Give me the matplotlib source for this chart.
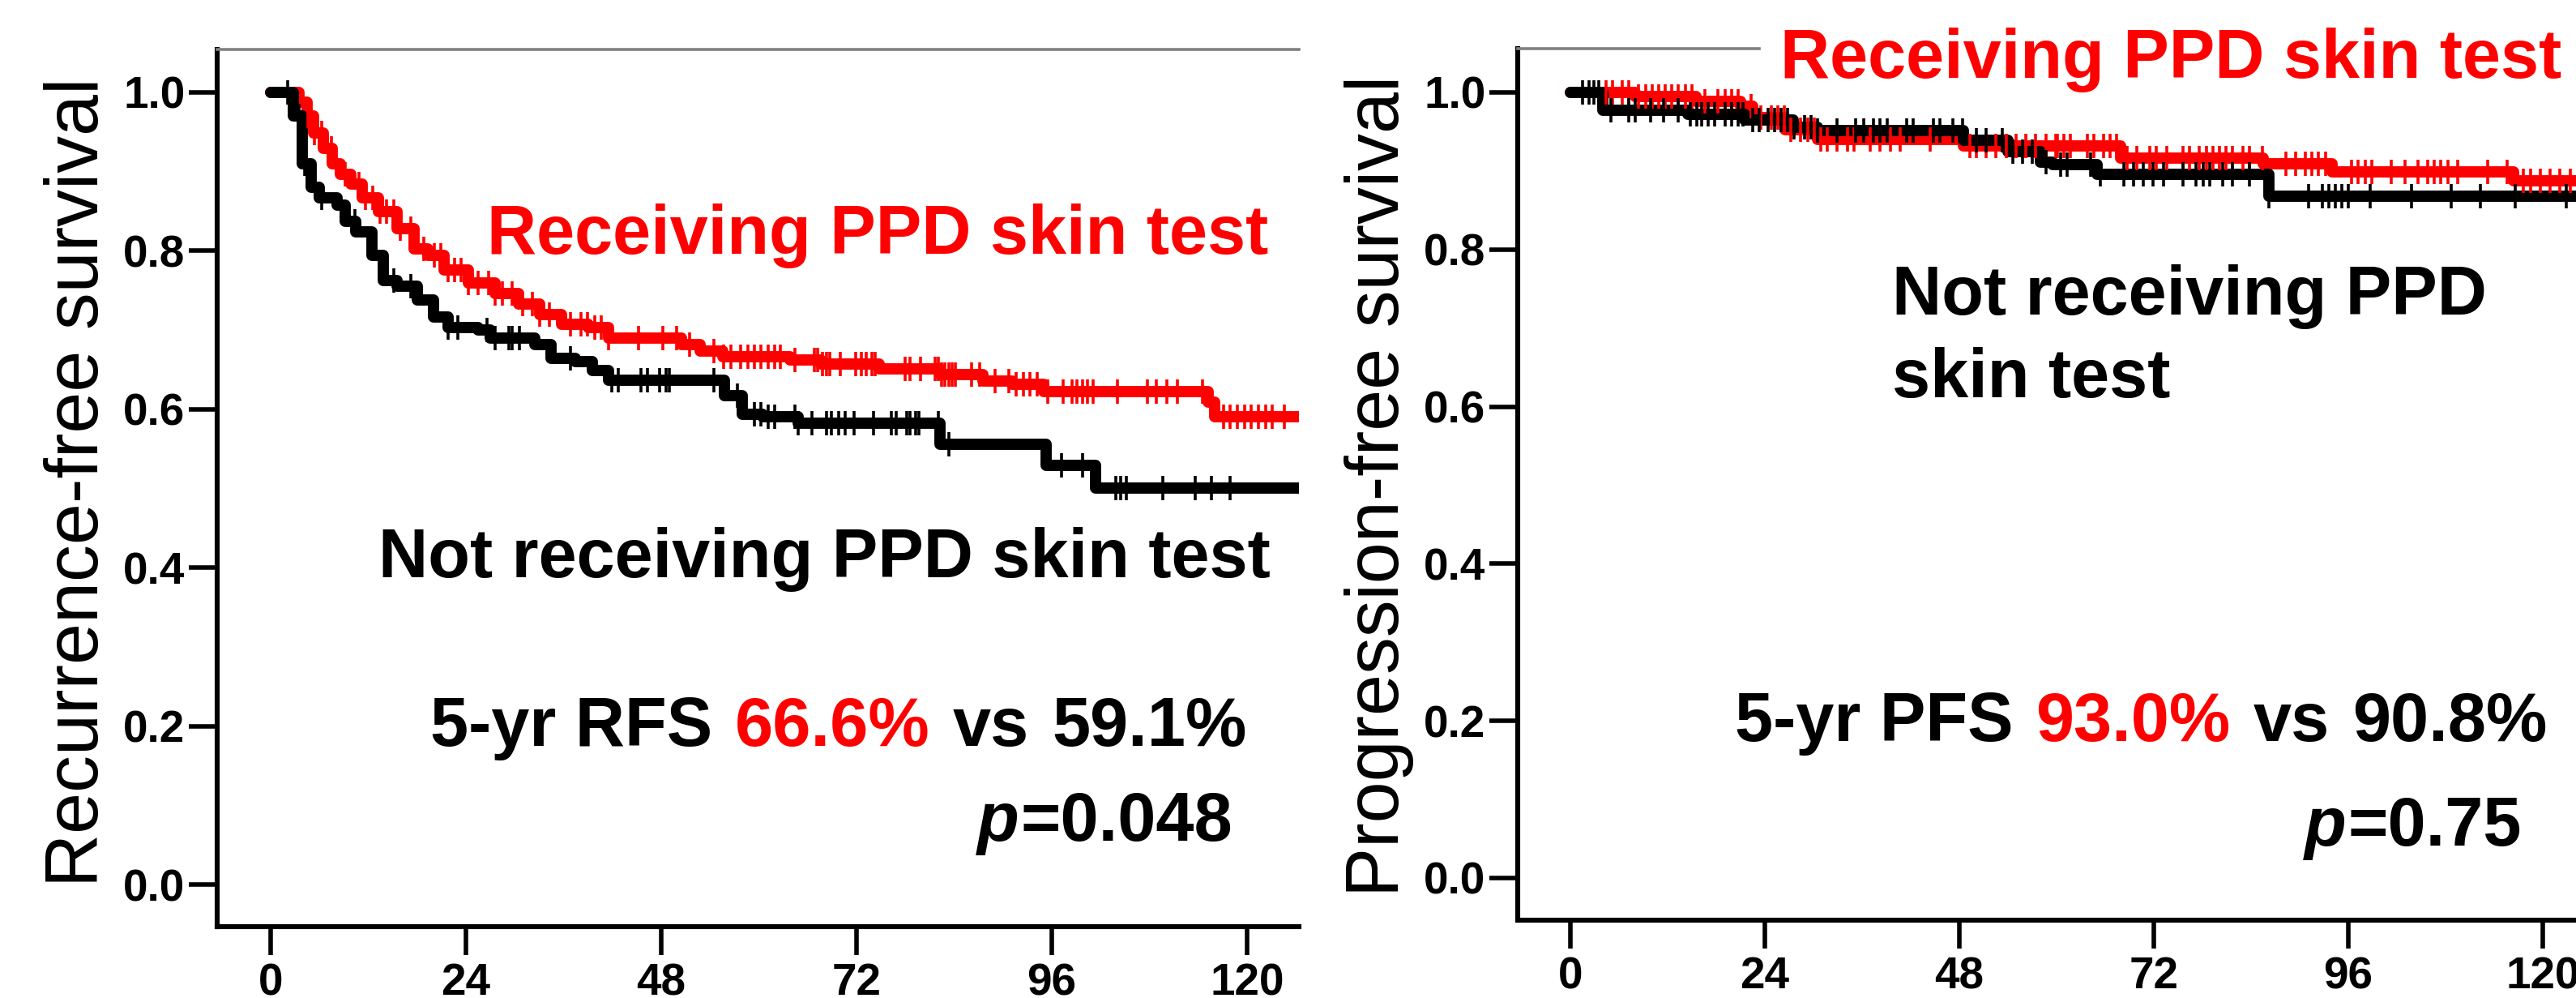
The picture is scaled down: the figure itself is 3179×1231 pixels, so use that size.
import numpy as np
import matplotlib
matplotlib.use("Agg")
import matplotlib.pyplot as plt

# ---------------- data ----------------
month_ticks = [0, 24, 48, 72, 96, 120]
month_labels = ["0", "24", "48", "72", "96", "120"]
surv_ticks = [0.0, 0.2, 0.4, 0.6, 0.8, 1.0]
surv_labels = ["0.0", "0.2", "0.4", "0.6", "0.8", "1.0"]

# Left panel: recurrence-free survival
rfs_ppd_t = [0, 3.5, 4.5, 5.3, 6.5, 7.6, 8.6, 9.9, 11.3, 13.2, 15.5, 17.6, 19.3, 21.3,
             24.3, 27.6, 30.5, 33.1, 35.8, 39.0, 41.5, 50.5, 52.8, 55.6, 63.8, 67.6,
             74.8, 82.3, 87.5, 91.1, 95.0, 115.2, 116.0, 126.4]
rfs_ppd_s = [1.000, 0.988, 0.970, 0.949, 0.929, 0.910, 0.897, 0.884, 0.867, 0.850, 0.828,
             0.802, 0.794, 0.776, 0.759, 0.746, 0.733, 0.720, 0.707, 0.703, 0.690, 0.682,
             0.673, 0.666, 0.662, 0.657, 0.651, 0.644, 0.636, 0.631, 0.622, 0.609, 0.591,
             0.591]
rfs_ppd_cens = [4.6, 5.4, 6.3, 7.5, 9.2, 10.9, 11.7, 12.6, 13.4, 14.2, 15.1, 15.9, 17.2,
                18.8, 20.1, 20.9, 21.8, 22.6, 23.4, 24.3, 25.5, 26.8, 27.6, 28.5, 29.7,
                31.0, 32.2, 33.1, 34.3, 36.9, 38.1, 38.9, 39.8, 40.6, 41.5, 45.2, 48.2,
                49.9, 51.5, 54.5, 55.7, 56.6, 57.8, 58.7, 59.5, 60.3, 61.2, 62.0, 62.6,
                64.4, 66.8, 67.2, 67.8, 68.3, 68.7, 70.0, 71.9, 72.6, 73.2, 73.9, 74.3,
                78.0, 78.6, 79.9, 81.7, 82.1, 82.5, 82.9, 83.4, 83.8, 84.2, 86.2, 87.1,
                89.0, 90.7, 91.6, 92.5, 93.3, 94.2, 95.5, 97.4, 98.5, 99.1, 99.8, 100.4,
                101.1, 104.1, 107.8, 108.9, 110.2, 111.5, 114.5, 117.1, 117.9, 118.8,
                119.7, 120.5, 121.4, 122.3, 123.1, 124.6]

rfs_no_t = [0, 2.8, 3.9, 5.0, 6.0, 8.2, 9.2, 10.5, 12.5, 13.8, 15.5, 18.0, 20.0, 21.8,
            25.5, 27.0, 32.5, 34.5, 37.5, 39.5, 41.5, 55.8, 58.0, 60.5, 64.8, 82.3,
            95.3, 101.4, 126.4]
rfs_no_s = [1.000, 0.970, 0.910, 0.880, 0.867, 0.858, 0.837, 0.824, 0.794, 0.763, 0.755,
            0.738, 0.716, 0.703, 0.700, 0.690, 0.682, 0.664, 0.660, 0.649, 0.637, 0.617,
            0.594, 0.591, 0.582, 0.556, 0.529, 0.500, 0.500]
rfs_no_cens = [2.1, 3.5, 4.2, 6.3, 10.4, 15.1, 17.2, 21.8, 23.0, 26.6, 27.6, 29.3, 29.7,
               30.6, 36.9, 41.9, 42.7, 45.5, 46.3, 47.8, 48.6, 49.0, 54.5, 57.4, 59.5,
               60.3, 61.2, 62.0, 64.4, 64.8, 66.5, 68.3, 68.9, 69.8, 70.6, 71.7, 74.1,
               76.3, 76.9, 78.2, 78.6, 79.3, 79.7, 82.1, 83.4, 97.2, 99.8, 103.9, 104.5,
               105.2, 109.7, 113.6, 115.6, 117.9]

# Right panel: progression-free survival
pfs_ppd_t = [0, 8.0, 15.5, 21.0, 22.5, 26.5, 30.5, 48.5, 67.9, 85.5, 94.0, 116.4, 127.0]
pfs_ppd_s = [1.000, 0.995, 0.989, 0.982, 0.968, 0.953, 0.940, 0.932, 0.916, 0.909,
             0.899, 0.887, 0.887]
pfs_ppd_cens = [4.4, 5.2, 6.4, 7.2, 8.4, 9.3, 10.1, 10.9, 11.7, 12.5, 13.3, 14.2, 15.0,
                16.6, 18.2, 19.1, 19.9, 20.7, 22.3, 23.5, 24.8, 25.6, 26.4, 27.2, 28.4,
                29.3, 30.1, 30.9, 31.7, 32.9, 34.2, 35.0, 37.0, 38.2, 39.5, 40.7, 44.4,
                49.3, 50.1, 51.3, 52.5, 53.8, 55.0, 56.2, 57.4, 58.7, 59.9, 60.1, 60.9,
                61.7, 63.8, 64.6, 65.8, 66.6, 67.4, 68.7, 69.9, 71.5, 72.3, 73.6, 75.6,
                76.4, 77.6, 78.5, 79.3, 80.1, 80.9, 81.7, 83.0, 83.8, 85.4, 88.3, 89.5,
                90.7, 91.5, 92.3, 93.2, 96.4, 97.2, 98.1, 98.9, 101.3, 103.0, 104.6,
                105.8, 106.6, 107.4, 108.3, 109.5, 113.2, 115.6, 117.6, 118.5, 119.7,
                120.9, 122.1, 123.4]

pfs_no_t = [0, 4.0, 14.5, 21.5, 27.5, 30.5, 48.5, 54.0, 58.0, 59.5, 65.0, 86.2, 127.0]
pfs_no_s = [1.000, 0.977, 0.972, 0.965, 0.956, 0.951, 0.939, 0.925, 0.911, 0.908, 0.896,
            0.868, 0.868]
pfs_no_cens = [1.5, 2.3, 2.9, 3.5, 5.0, 7.2, 8.0, 9.9, 11.5, 13.3, 14.8, 15.6, 16.2, 17.0,
               17.8, 19.1, 19.9, 20.7, 21.3, 22.5, 23.3, 24.4, 25.2, 26.0, 26.8, 27.6,
               28.9, 29.7, 30.5, 32.9, 35.2, 36.2, 37.4, 38.2, 39.1, 41.5, 42.3, 44.8,
               45.6, 47.2, 48.4, 50.1, 51.3, 53.3, 54.6, 55.8, 57.0, 58.7, 60.5, 61.3,
               64.2, 65.4, 68.3, 69.5, 70.7, 71.9, 73.2, 75.6, 77.2, 78.1, 78.9, 80.5,
               81.7, 83.8, 86.2, 91.1, 92.8, 93.6, 94.4, 95.2, 96.0, 98.7, 103.8, 108.7,
               112.3, 116.6, 122.9]

# ---------------- figure ----------------
W, H, DPI = 3179, 1231, 100
plt.rcParams['font.family'] = ['Liberation Sans', 'DejaVu Sans']

RED = '#ff0000'
BLACK = '#000000'
BIG = 61
TICK_FS = 39.5
LABEL_FS = 66

fig = plt.figure(figsize=(W / DPI, H / DPI), dpi=DPI)
fig.patch.set_facecolor('white')


def add_axes_px(left, top, right, bottom):
    return fig.add_axes([left / W, 1 - bottom / H, (right - left) / W, (bottom - top) / H])


def step_value(t, s, c):
    idx = np.searchsorted(np.asarray(t), np.asarray(c), side='right') - 1
    return np.asarray(s)[idx]


def draw_km(ax, t, s, color):
    ax.step(t, s, where='post', color=color, lw=10, solid_capstyle='round',
            solid_joinstyle='round', zorder=3)


def draw_cens(ax, t, s, cens, color):
    ax.plot(cens, step_value(t, s, cens), linestyle='none', marker='|', ms=22,
            mew=2.6, color=color, zorder=4)


def style_axes(ax, xlim, ylim, top_bounds=None):
    ax.set_xlim(*xlim)
    ax.set_ylim(*ylim)
    ax.spines['right'].set_visible(False)
    ax.spines['top'].set_color('#808080')
    ax.spines['top'].set_linewidth(2.6)
    if top_bounds is not None:
        ax.spines['top'].set_bounds(*top_bounds)
    for sp in ('left', 'bottom'):
        ax.spines[sp].set_linewidth(4.4)
        ax.spines[sp].set_color('black')
    ax.set_xticks(month_ticks)
    ax.set_xticklabels(month_labels, fontsize=TICK_FS, fontweight='bold')
    ax.set_yticks(surv_ticks)
    ax.set_yticklabels(surv_labels, fontsize=TICK_FS, fontweight='bold')
    ax.tick_params(axis='both', direction='out', length=25, width=4.0, color='black')
    ax.tick_params(axis='x', pad=7)
    ax.tick_params(axis='y', pad=3.5)
    ax.patch.set_alpha(0)


def txt(x, y, s, color=BLACK, ha='left', style='normal'):
    return fig.text(x / W, 1 - y / H, s, color=color, fontsize=BIG, fontweight='bold',
                    fontstyle=style, ha=ha, va='baseline')


def chain(ax, x, y, pieces):
    s0, c0, st0 = pieces[0][:3]
    prev = txt(x, y, s0, color=c0, style=st0)
    for s, c, st, gap in pieces[1:]:
        prev = ax.annotate(s, xy=(1, 0), xycoords=prev, xytext=(gap, 0),
                           textcoords='offset pixels', ha='left', va='bottom',
                           color=c, fontsize=BIG, fontweight='bold', fontstyle=st,
                           annotation_clip=False)
    return prev


# ---- left panel ----
ax1 = add_axes_px(268, 61, 1603, 1143)
draw_km(ax1, rfs_ppd_t, rfs_ppd_s, RED)
draw_km(ax1, rfs_no_t, rfs_no_s, BLACK)
draw_cens(ax1, rfs_ppd_t, rfs_ppd_s, rfs_ppd_cens, RED)
draw_cens(ax1, rfs_no_t, rfs_no_s, rfs_no_cens, BLACK)
style_axes(ax1, (-6.57, 126.39), (-0.0532, 1.0542))

fig.text(54 / W, 1 - 595 / H, 'Recurrence-free survival', rotation=90, ha='left',
         va='center', fontsize=LABEL_FS)

txt(1565, 313, 'Receiving PPD skin test', color=RED, ha='right')
txt(1568, 712, 'Not receiving PPD skin test', ha='right')
chain(ax1, 531, 920, [('5-yr RFS', BLACK, 'normal'),
                      ('66.6%', RED, 'normal', 28),
                      ('vs', BLACK, 'normal', 28),
                      ('59.1%', BLACK, 'normal', 28)])
chain(ax1, 1206, 1037, [('p', BLACK, 'italic'),
                        ('=0.048', BLACK, 'normal', 2)])

# ---- right panel ----
ax2 = add_axes_px(1873, 60, 3205, 1135)
draw_km(ax2, pfs_ppd_t, pfs_ppd_s, RED)
draw_km(ax2, pfs_no_t, pfs_no_s, BLACK)
draw_cens(ax2, pfs_ppd_t, pfs_ppd_s, pfs_ppd_cens, RED)
draw_cens(ax2, pfs_no_t, pfs_no_s, pfs_no_cens, BLACK)
style_axes(ax2, (-6.5, 126.7), (-0.0537, 1.0557), top_bounds=(-6.5, 23.3))

fig.text(1659 / W, 1 - 599 / H, 'Progression-free survival', rotation=90, ha='left',
         va='center', fontsize=LABEL_FS)

txt(2197, 96, 'Receiving PPD skin test', color=RED)
txt(2335, 388, 'Not receiving PPD')
txt(2335, 490, 'skin test')
chain(ax2, 2141, 914, [('5-yr PFS', BLACK, 'normal'),
                       ('93.0%', RED, 'normal', 28),
                       ('vs', BLACK, 'normal', 28),
                       ('90.8%', BLACK, 'normal', 28)])
chain(ax2, 2844, 1043, [('p', BLACK, 'italic'),
                        ('=0.75', BLACK, 'normal', 2)])

fig.savefig('out.png', dpi=DPI, facecolor='white')
